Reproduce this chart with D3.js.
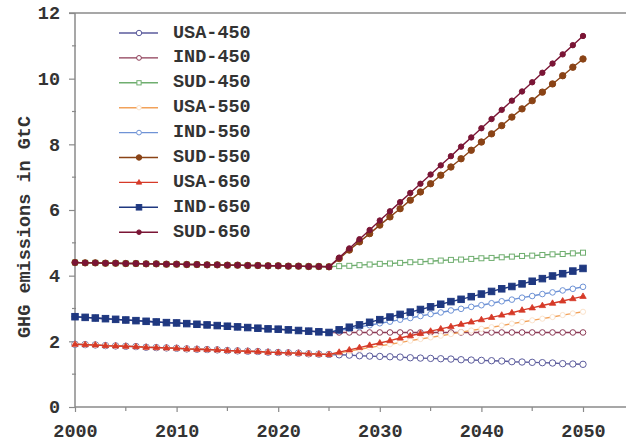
<!DOCTYPE html>
<html>
<head>
<meta charset="utf-8">
<script src="https://cdn.jsdelivr.net/npm/d3@7"></script>
<style>
  html, body { margin: 0; padding: 0; background: #fff; }
  svg { display: block; }
  text { font-family: "Liberation Mono", "DejaVu Sans Mono", monospace; }
</style>
</head>
<body>
<svg id="chart" width="626" height="442"></svg>
<script>
// Years shown on the horizontal axis
const historyYears = d3.range(2000, 2026);
const scenarioYears = d3.range(2026, 2051);

// Historical emissions (GtC), 2000–2025
const usaHistory = [1.91, 1.90, 1.89, 1.87, 1.86, 1.85, 1.84, 1.82, 1.81, 1.80, 1.79, 1.77, 1.76,
                    1.75, 1.74, 1.72, 1.71, 1.70, 1.69, 1.67, 1.66, 1.65, 1.64, 1.62, 1.61, 1.60];
const indHistory = [2.75, 2.73, 2.71, 2.69, 2.67, 2.65, 2.63, 2.61, 2.59, 2.57, 2.56, 2.54, 2.52,
                    2.50, 2.48, 2.46, 2.44, 2.42, 2.40, 2.38, 2.37, 2.35, 2.33, 2.31, 2.29, 2.27];
const sudHistory = [4.40, 4.39, 4.39, 4.38, 4.38, 4.37, 4.37, 4.36, 4.36, 4.35, 4.35, 4.34, 4.34,
                    4.33, 4.33, 4.32, 4.32, 4.31, 4.31, 4.30, 4.30, 4.29, 4.29, 4.28, 4.28, 4.27];

// Scenario emissions (GtC), 2026–2050
const usa450 = [1.59, 1.58, 1.56, 1.55, 1.54, 1.53, 1.52, 1.50, 1.49, 1.48, 1.47, 1.46, 1.44,
                1.43, 1.42, 1.41, 1.40, 1.38, 1.37, 1.36, 1.35, 1.34, 1.32, 1.31, 1.30];
const ind450 = [2.27, 2.27, 2.27, 2.27, 2.27, 2.27, 2.27, 2.27, 2.27, 2.27, 2.27, 2.27, 2.27,
                2.27, 2.27, 2.27, 2.27, 2.27, 2.27, 2.27, 2.27, 2.27, 2.27, 2.27, 2.27];
const sud450 = [4.29, 4.30, 4.32, 4.34, 4.36, 4.37, 4.39, 4.41, 4.42, 4.44, 4.46, 4.48, 4.49,
                4.51, 4.53, 4.54, 4.56, 4.58, 4.60, 4.61, 4.63, 4.65, 4.66, 4.68, 4.70];
const usa550 = [1.65, 1.70, 1.76, 1.81, 1.86, 1.91, 1.96, 2.02, 2.07, 2.12, 2.17, 2.22, 2.28,
                2.33, 2.38, 2.43, 2.48, 2.54, 2.59, 2.64, 2.69, 2.74, 2.80, 2.85, 2.90];
const ind550 = [2.33, 2.38, 2.44, 2.49, 2.55, 2.60, 2.66, 2.71, 2.77, 2.83, 2.88, 2.94, 2.99,
                3.05, 3.10, 3.16, 3.22, 3.27, 3.33, 3.38, 3.44, 3.49, 3.55, 3.60, 3.66];
const sud550 = [4.52, 4.78, 5.03, 5.28, 5.54, 5.79, 6.04, 6.30, 6.55, 6.80, 7.06, 7.31, 7.56,
                7.82, 8.07, 8.32, 8.57, 8.83, 9.08, 9.33, 9.59, 9.84, 10.09, 10.35, 10.60];
const usa650 = [1.67, 1.74, 1.81, 1.88, 1.95, 2.02, 2.10, 2.17, 2.24, 2.31, 2.38, 2.45, 2.52,
                2.59, 2.66, 2.73, 2.80, 2.87, 2.95, 3.02, 3.09, 3.16, 3.23, 3.30, 3.37];
const ind650 = [2.35, 2.43, 2.50, 2.58, 2.66, 2.74, 2.82, 2.89, 2.97, 3.05, 3.13, 3.21, 3.28,
                3.36, 3.44, 3.52, 3.60, 3.67, 3.75, 3.83, 3.91, 3.99, 4.06, 4.14, 4.22];
const sud650 = [4.55, 4.83, 5.11, 5.39, 5.68, 5.96, 6.24, 6.52, 6.80, 7.08, 7.36, 7.64, 7.93,
                8.21, 8.49, 8.77, 9.05, 9.33, 9.61, 9.89, 10.18, 10.46, 10.74, 11.02, 11.30];

// Axis ticks
const xMajorTicks = [2000, 2010, 2020, 2030, 2040, 2050];
const xMinorTicks = [2005, 2015, 2025, 2035, 2045];
const yMajorTicks = [0, 2, 4, 6, 8, 10, 12];
const yMinorTicks = [1, 3, 5, 7, 9, 11];

// Series: name, history, scenario path, look
const seriesList = [
  { name: "USA-450", hist: usaHistory, proj: usa450, color: "#5b5b9c", marker: "circle", fill: "#fff", size: 3.2 },
  { name: "IND-450", hist: indHistory, proj: ind450, color: "#8c3a55", marker: "circle", fill: "#fff", size: 2.8 },
  { name: "SUD-450", hist: sudHistory, proj: sud450, color: "#6fae6f", marker: "square", fill: "#fff", size: 5 },
  { name: "USA-550", hist: usaHistory, proj: usa550, color: "#f2a25a", marker: "circle", fill: "#fff", size: 2.6, faint: true },
  { name: "IND-550", hist: indHistory, proj: ind550, color: "#6f93d6", marker: "circle", fill: "#fff", size: 2.8 },
  { name: "SUD-550", hist: sudHistory, proj: sud550, color: "#8a4316", marker: "circle", fill: null, size: 3.2 },
  { name: "USA-650", hist: usaHistory, proj: usa650, color: "#d63a28", marker: "triangle", fill: null, size: 3.4 },
  { name: "IND-650", hist: indHistory, proj: ind650, color: "#1f3880", marker: "square", fill: null, size: 6.5 },
  { name: "SUD-650", hist: sudHistory, proj: sud650, color: "#7a1535", marker: "circle", fill: null, size: 2.7 }
];

const svg = d3.select("#chart");
const axisColor = "#8a8a8a";
const textColor = "#333";

const x = d3.scaleLinear().domain([2000, 2050]).range([75, 583]);
const y = d3.scaleLinear().domain([0, 12]).range([407, 13]);

// Frame: top rule and the two axes
svg.append("line")
  .attr("x1", 69).attr("x2", 626).attr("y1", y(12)).attr("y2", y(12))
  .attr("stroke", axisColor).attr("stroke-width", 1.5);

const xAxisG = svg.append("g").attr("transform", `translate(0,${y(0)})`);
xAxisG.append("line")
  .attr("x1", x(2000)).attr("x2", 626).attr("y1", 0).attr("y2", 0)
  .attr("stroke", axisColor).attr("stroke-width", 1.5);
xAxisG.call(d3.axisBottom(x).tickValues(xMajorTicks).tickSize(5).tickPadding(12).tickFormat(d3.format("d")))
  .call(g => g.select(".domain").remove())
  .call(g => g.selectAll(".tick line").attr("stroke", axisColor).attr("stroke-width", 1.2))
  .call(g => g.selectAll(".tick text")
    .attr("font-family", "Liberation Mono, monospace")
    .attr("font-size", 18.5).attr("font-weight", "bold").attr("fill", textColor));
xAxisG.selectAll(".minor").data(xMinorTicks).join("line")
  .attr("class", "minor")
  .attr("x1", d => x(d)).attr("x2", d => x(d)).attr("y1", 0).attr("y2", 4)
  .attr("stroke", axisColor).attr("stroke-width", 1.2);

const yAxisG = svg.append("g").attr("transform", `translate(${x(2000)},0)`);
yAxisG.append("line")
  .attr("x1", 0).attr("x2", 0).attr("y1", y(12)).attr("y2", y(0))
  .attr("stroke", axisColor).attr("stroke-width", 1.5);
yAxisG.call(d3.axisLeft(y).tickValues(yMajorTicks).tickSize(6).tickPadding(9).tickFormat(d3.format("d")))
  .call(g => g.select(".domain").remove())
  .call(g => g.selectAll(".tick line").attr("stroke", axisColor).attr("stroke-width", 1.2))
  .call(g => g.selectAll(".tick text")
    .attr("font-family", "Liberation Mono, monospace")
    .attr("font-size", 18.5).attr("font-weight", "bold").attr("fill", textColor));
yAxisG.selectAll(".minor").data(yMinorTicks).join("line")
  .attr("class", "minor")
  .attr("x1", -3).attr("x2", 1).attr("y1", d => y(d)).attr("y2", d => y(d))
  .attr("stroke", axisColor).attr("stroke-width", 1.2);

// Y axis title
svg.append("text")
  .attr("transform", "translate(25,227) rotate(-90)")
  .attr("text-anchor", "middle")
  .attr("dominant-baseline", "middle")
  .attr("font-size", 18.5).attr("font-weight", "bold").attr("fill", textColor)
  .text("GHG emissions in GtC");

// Marker drawing helper
function drawMarker(sel, s) {
  const stroke = s.faint ? "#fbe3cc" : s.color;
  if (s.marker === "circle") {
    sel.append("circle").attr("r", s.size)
      .attr("fill", s.fill || s.color).attr("stroke", stroke).attr("stroke-width", 1);
  } else if (s.marker === "square") {
    const h = s.size / 2;
    sel.append("rect").attr("x", -h).attr("y", -h).attr("width", s.size).attr("height", s.size)
      .attr("fill", s.fill || s.color).attr("stroke", stroke).attr("stroke-width", 1);
  } else if (s.marker === "triangle") {
    const r = s.size;
    sel.append("path").attr("d", `M0,${-r}L${r * 0.95},${r * 0.6}L${-r * 0.95},${r * 0.6}Z`)
      .attr("fill", s.fill || s.color).attr("stroke", stroke).attr("stroke-width", 0.8);
  }
}

const line = d3.line().x(d => x(d.year)).y(d => y(d.value));

// Plot each series: history joined with its scenario path
const plot = svg.append("g");
seriesList.forEach(s => {
  const values = s.hist.concat(s.proj);
  const years = historyYears.concat(scenarioYears);
  const pts = years.map((yr, i) => ({ year: yr, value: values[i] }));
  const g = plot.append("g");
  g.append("path").datum(pts).attr("d", line)
    .attr("fill", "none").attr("stroke", s.color).attr("stroke-width", 1.4);
  g.selectAll("g.mk").data(pts).join("g")
    .attr("class", "mk")
    .attr("transform", d => `translate(${x(d.year)},${y(d.value)})`)
    .each(function () { drawMarker(d3.select(this), s); });
});

// Legend
const legend = svg.append("g");
seriesList.forEach((s, i) => {
  const ly = 33 + i * 24.9;
  const row = legend.append("g").attr("transform", `translate(0,${ly})`);
  row.append("line").attr("x1", 119).attr("x2", 158).attr("y1", 0).attr("y2", 0)
    .attr("stroke", s.color).attr("stroke-width", 1.4);
  const mk = row.append("g").attr("transform", "translate(139,0)");
  drawMarker(mk, Object.assign({}, s, { size: s.marker === "square" && !s.fill ? 5.5 : s.size * 0.85 }));
  row.append("text").attr("x", 173).attr("y", 0)
    .attr("dominant-baseline", "central")
    .attr("font-size", 18.5).attr("font-weight", "bold").attr("fill", textColor)
    .text(s.name);
});
</script>
</body>
</html>
